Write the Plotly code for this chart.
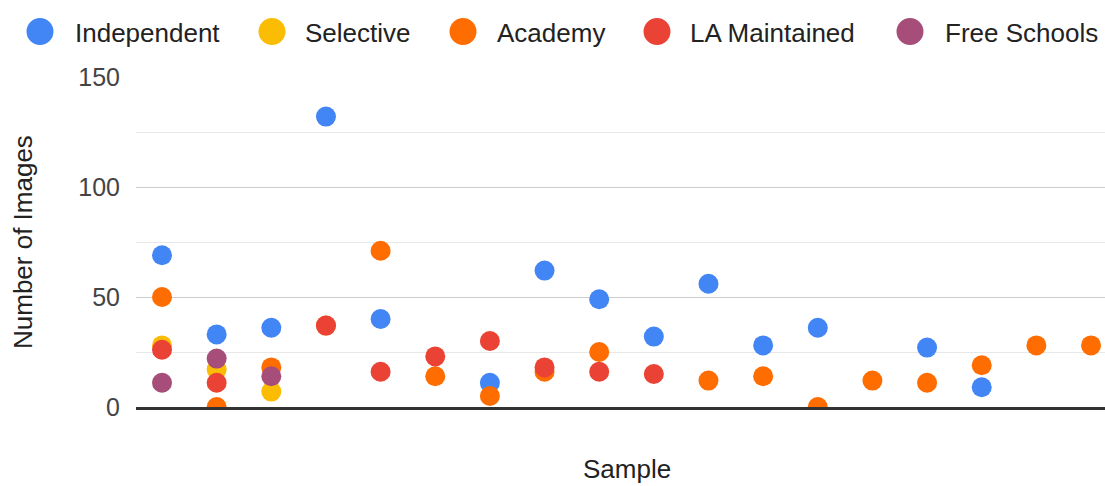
import plotly.graph_objects as go

# Sample index along the horizontal axis
samples = list(range(1, 19))

# Number of images per sample for each school type (None = no value)
independent = [69, 33, 36, 132, 40, None, 11, 62, 49, 32, 56, 28, 36, None, 27, 9, None, None]
selective = [28, 17, 7, None, None, None, None, None, None, None, None, None, None, None, None, None, None, None]
academy = [50, 0, 18, 37, 71, 14, 5, 16, 25, None, 12, 14, 0, 12, 11, 19, 28, 28]
la_maintained = [26, 11, None, 37, 16, 23, 30, 18, 16, 15, None, None, None, None, None, None, None, None]
free_schools = [11, 22, 14, None, None, None, None, None, None, None, None, None, None, None, None, None, None, None]

series_names = ["Independent", "Selective", "Academy", "LA Maintained", "Free Schools"]
series_values = [independent, selective, academy, la_maintained, free_schools]
series_colors = ["#4285F4", "#FBBC04", "#FF6D01", "#EA4335", "#A64D79"]

# Canvas geometry (pixels)
W, H = 1105, 486
L, R, T, B = 136, 0, 77, 79
PW, PH = W - L - R, H - T - B


def px_x(px):
    """Horizontal pixel position -> paper coordinate."""
    return (px - L) / PW


def px_y(py):
    """Vertical pixel position (from top) -> paper coordinate."""
    return (H - B - py) / PH


font_family = "Liberation Sans, Arial, sans-serif"
text_color = "#222222"

fig = go.Figure()
for name, values, color in zip(series_names, series_values, series_colors):
    fig.add_trace(go.Scatter(
        x=samples, y=values, name=name, mode="markers", showlegend=False,
        marker=dict(color=color, size=20, line=dict(width=0)),
    ))

# Legend row across the top: dot + label for each series
legend_dot_x = [40, 272, 463, 657, 910]
legend_text_x = [73, 303, 495, 688, 943]
legend_y = 31.5
shapes = []
annotations = []
for name, color, dx, tx in zip(series_names, series_colors, legend_dot_x, legend_text_x):
    shapes.append(dict(
        type="circle", xref="paper", yref="paper",
        xsizemode="pixel", ysizemode="pixel",
        xanchor=px_x(dx), yanchor=px_y(legend_y),
        x0=-13.5, x1=13.5, y0=-13.5, y1=13.5,
        fillcolor=color, line=dict(width=0),
    ))
    annotations.append(dict(
        text=name, xref="paper", yref="paper", x=px_x(tx), y=px_y(legend_y + 1),
        xanchor="left", yanchor="middle", showarrow=False,
        font=dict(family=font_family, size=26, color=text_color),
    ))

# Axis titles
annotations.append(dict(
    text="Number of Images", xref="paper", yref="paper",
    x=px_x(23), y=px_y(242), xanchor="center", yanchor="middle",
    textangle=-90, showarrow=False,
    font=dict(family=font_family, size=26, color=text_color),
))
annotations.append(dict(
    text="Sample", xref="paper", yref="paper",
    x=px_x(627), y=px_y(486), xanchor="center", yanchor="bottom",
    showarrow=False,
    font=dict(family=font_family, size=26, color=text_color),
))

fig.update_layout(
    width=W, height=H,
    margin=dict(l=L, r=R, t=T, b=B),
    paper_bgcolor="white", plot_bgcolor="white",
    font=dict(family=font_family, size=25, color=text_color),
    showlegend=False,
    shapes=shapes,
    annotations=annotations,
    xaxis=dict(
        range=[0.524, 18.256], showgrid=False, zeroline=False,
        showticklabels=False, ticks="",
        showline=True, linecolor="#333333", linewidth=3,
    ),
    yaxis=dict(
        range=[0, 150], tickvals=[0, 50, 100, 150], zeroline=False,
        showgrid=True, gridcolor="#cccccc", gridwidth=1,
        minor=dict(dtick=25, showgrid=True, gridcolor="#e8e8e8", gridwidth=1),
        tickfont=dict(size=25, color="#444444"), ticks="", ticklabelstandoff=15,
    ),
)

fig.write_html("out.html")
